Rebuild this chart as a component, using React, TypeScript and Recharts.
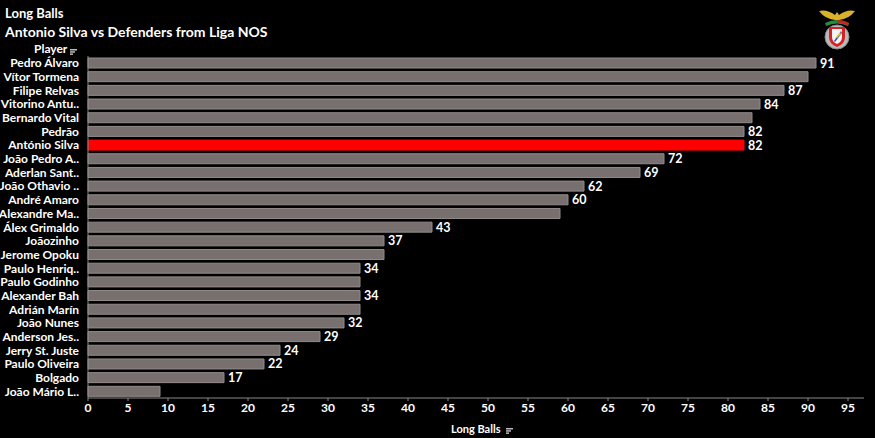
import { BarChart, Bar, XAxis, YAxis, Cell, LabelList } from "recharts";

const players = [
  "Pedro Álvaro",
  "Vítor Tormena",
  "Filipe Relvas",
  "Vitorino Antu..",
  "Bernardo Vital",
  "Pedrão",
  "António Silva",
  "João Pedro A..",
  "Aderlan Sant..",
  "João Othavio ..",
  "André Amaro",
  "Alexandre Ma..",
  "Álex Grimaldo",
  "Joãozinho",
  "Jerome Opoku",
  "Paulo Henriq..",
  "Paulo Godinho",
  "Alexander Bah",
  "Adrián Marín",
  "João Nunes",
  "Anderson Jes..",
  "Jerry St. Juste",
  "Paulo Oliveira",
  "Bolgado",
  "João Mário L..",
];

const longBalls = [91, 90, 87, 84, 83, 82, 82, 72, 69, 62, 60, 59, 43, 37, 37, 34, 34, 34, 34, 32, 29, 24, 22, 17, 9];

// Tableau hid some labels to avoid overlap
const showLabel = [1, 0, 1, 1, 0, 1, 1, 1, 1, 1, 1, 0, 1, 1, 0, 1, 0, 1, 0, 1, 1, 1, 1, 1, 0];

const highlight = "António Silva";

const xTicks = [0, 5, 10, 15, 20, 25, 30, 35, 40, 45, 50, 55, 60, 65, 70, 75, 80, 85, 90, 95];

const data = players.map((name, i) => ({
  name,
  value: longBalls[i],
  show: showLabel[i] === 1,
}));

const font = "Lato, 'Noto Sans', sans-serif";

const FilterIcon = ({ x, y }: { x: number; y: number }) => (
  <svg width={7} height={6} style={{ position: "absolute", left: x, top: y }}>
    <rect x={0} y={0} width={7} height={1.5} fill="#bbb" />
    <rect x={0} y={2.2} width={5} height={1.5} fill="#bbb" />
    <rect x={0} y={4.4} width={3} height={1.5} fill="#bbb" />
  </svg>
);

const Logo = () => (
  <svg width={42} height={44} viewBox="0 0 40 44" style={{ position: "absolute", left: 816, top: 7 }}>
    <path d="M2 4 Q10 2 18 8 L20 5 L22 8 Q30 2 38 4 Q32 12 22 13 L18 13 Q8 12 2 4 Z" fill="#d9b12a" />
    <path d="M8 16 Q20 10 32 16 L31 19 Q20 14 9 19 Z" fill="#2a8a3a" />
    <path d="M20 13 Q27 13 32 16 L31 19 Q26 15.5 20 15.5 Z" fill="#cc2222" />
    <circle cx={20} cy={30} r={12} fill="#b9b9b9" stroke="#8a8a8a" strokeWidth={1} />
    <path d="M12 20 L28 20 L28 30 Q28 37 20 40 Q12 37 12 30 Z" fill="#d42222" />
    <path d="M15 22 L25 22 L25 30 Q25 35 20 37 Q15 35 15 30 Z" fill="#f4f4f4" />
    <path d="M17 34 L24 24 L25 26 L18 35 Z" fill="#2c4fa8" />
    <path d="M19 30 L23 25 L24 27 L20 31 Z" fill="#e8c53a" />
  </svg>
);

const PlayerTick = (props: any) => {
  const { x, y, payload } = props;
  return (
    <text
      x={x}
      y={y}
      dy={4.5}
      textAnchor="end"
      fill="#ffffff"
      fontSize={12}
      fontWeight={700}
      fontFamily={font}
    >
      {payload.value}
    </text>
  );
};

const ValueLabel = (props: any) => {
  const { x, y, width, height, value, index } = props;
  if (!data[index] || !data[index].show) return null;
  return (
    <text
      x={x + width + 4}
      y={y + height / 2}
      dy={4.5}
      fill="#ffffff"
      fontSize={12.5}
      fontWeight={700}
      fontFamily={font}
    >
      {value}
    </text>
  );
};

export default function App() {
  return (
    <div
      style={{
        position: "relative",
        width: 875,
        height: 438,
        background: "#000000",
        fontFamily: font,
        color: "#ffffff",
        overflow: "hidden",
      }}
    >
      <style>{`body{margin:0;background:#000}`}</style>
      <div style={{ position: "absolute", left: 5, top: 5, fontSize: 13, fontWeight: 700 }}>Long Balls</div>
      <div style={{ position: "absolute", left: 5, top: 23, fontSize: 14, fontWeight: 700 }}>
        Antonio Silva vs Defenders from Liga NOS
      </div>
      <div style={{ position: "absolute", left: 34, top: 41, fontSize: 12, fontWeight: 700 }}>Player</div>
      <FilterIcon x={70} y={49} />
      <Logo />
      <BarChart
        width={875}
        height={438}
        data={data}
        layout="vertical"
        margin={{ top: 56, right: 11, bottom: 20, left: 0 }}
        barCategoryGap={2}
      >
        <XAxis
          type="number"
          domain={[0, 97]}
          ticks={xTicks}
          interval={0}
          height={20}
          axisLine={{ stroke: "#8a8a8a" }}
          tickLine={{ stroke: "#8a8a8a" }}
          tickSize={3}
          tick={{ fill: "#ffffff", fontSize: 12, fontWeight: 700, fontFamily: font }}
        />
        <YAxis
          type="category"
          dataKey="name"
          width={88}
          interval={0}
          axisLine={{ stroke: "#8a8a8a" }}
          tickLine={false}
          tickMargin={3}
          tick={<PlayerTick />}
        />
        <Bar dataKey="value" isAnimationActive={false} stroke="#948b8b" strokeWidth={1}>
          {data.map((d) => (
            <Cell
              key={d.name}
              fill={d.name === highlight ? "#ff0000" : "#786f6f"}
              stroke={d.name === highlight ? "#ff0000" : "#948b8b"}
            />
          ))}
          <LabelList dataKey="value" content={ValueLabel} />
        </Bar>
      </BarChart>
      <div style={{ position: "absolute", left: 451, top: 422, fontSize: 11, fontWeight: 700 }}>Long Balls</div>
      <FilterIcon x={506} y={428} />
    </div>
  );
}
